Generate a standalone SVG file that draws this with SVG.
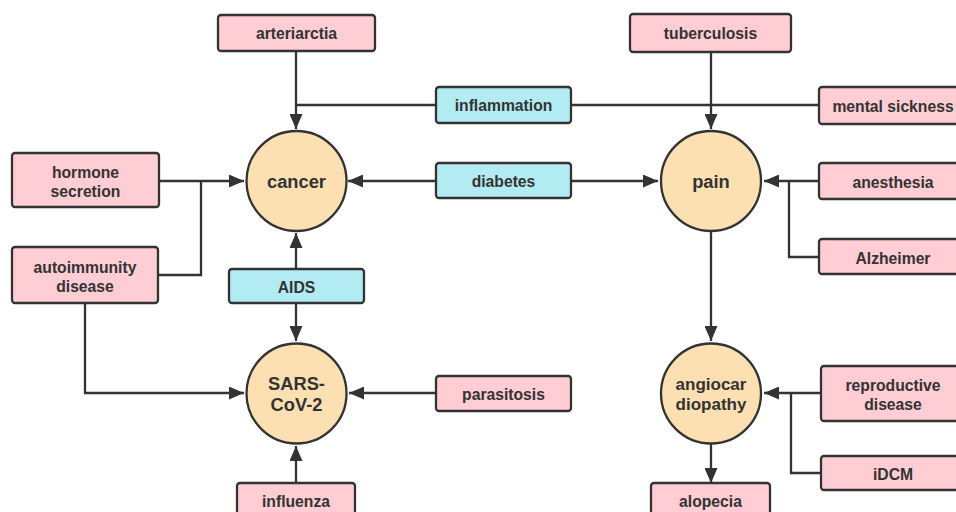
<svg xmlns="http://www.w3.org/2000/svg" width="956" height="512" viewBox="0 0 956 512">
<style>
.b{stroke:#333;stroke-width:2.3}
.p{fill:#ffcdd3}
.c{fill:#b3ebf3}
.o{fill:#fde0b2}
text{font-family:"Liberation Sans",Arial,sans-serif;font-weight:bold;fill:#333;text-anchor:middle}
.t{font-size:15.7px}
.n{font-size:18.3px}
.m{font-size:17px}
.l{fill:none;stroke:#333;stroke-width:2.3}
</style>
<defs>
<marker id="a" markerUnits="userSpaceOnUse" markerWidth="16" markerHeight="13" refX="15" refY="6.5" orient="auto">
<path d="M0,0 L15,6.5 L0,13 z" fill="#333"/>
</marker>
</defs>
<rect width="956" height="512" fill="#fff"/>
<g id="connectors">
<path class="l" d="M296,51 V129" marker-end="url(#a)"/>
<path class="l" d="M296,105 H436"/>
<path class="l" d="M571,105 H819"/>
<path class="l" d="M711,52 V129" marker-end="url(#a)"/>
<path class="l" d="M159,181 H244" marker-end="url(#a)"/>
<path class="l" d="M158,275 H201 V181"/>
<path class="l" d="M436,181 H348" marker-end="url(#a)"/>
<path class="l" d="M571,181 H658" marker-end="url(#a)"/>
<path class="l" d="M819,181 H764" marker-end="url(#a)"/>
<path class="l" d="M819,257 H789 V181"/>
<path class="l" d="M296,269 V233" marker-end="url(#a)"/>
<path class="l" d="M296,303 V341" marker-end="url(#a)"/>
<path class="l" d="M85,303 V393 H244" marker-end="url(#a)"/>
<path class="l" d="M436,393 H349" marker-end="url(#a)"/>
<path class="l" d="M296,483 V446" marker-end="url(#a)"/>
<path class="l" d="M711,231 V341" marker-end="url(#a)"/>
<path class="l" d="M821,393 H764" marker-end="url(#a)"/>
<path class="l" d="M821,473 H791 V393"/>
<path class="l" d="M711,444 V483" marker-end="url(#a)"/>
</g>
<g id="arteriarctia"><rect class="b p" x="218" y="15" width="157" height="36" rx="3"/><text class="t" x="296.5" y="39">arteriarctia</text></g>
<g id="tuberculosis"><rect class="b p" x="630" y="14" width="161" height="38" rx="3"/><text class="t" x="710.5" y="39">tuberculosis</text></g>
<g id="inflammation"><rect class="b c" x="436" y="87" width="135" height="36" rx="3"/><text class="t" x="503.5" y="111">inflammation</text></g>
<g id="mental-sickness"><rect class="b p" x="819" y="87" width="150" height="37" rx="3"/><text class="t" x="893" y="112">mental sickness</text></g>
<g id="hormone-secretion"><rect class="b p" x="12" y="153" width="147" height="54" rx="3"/><text class="t" x="85.5" y="178">hormone</text><text class="t" x="85.5" y="197">secretion</text></g>
<g id="cancer"><circle class="b o" cx="296.5" cy="181" r="50"/><text class="n" x="296.5" y="188">cancer</text></g>
<g id="diabetes"><rect class="b c" x="436" y="163" width="135" height="35" rx="3"/><text class="t" x="503.5" y="187">diabetes</text></g>
<g id="pain"><circle class="b o" cx="711" cy="181" r="50"/><text class="n" x="711" y="188">pain</text></g>
<g id="anesthesia"><rect class="b p" x="819" y="163" width="148" height="36" rx="3"/><text class="t" x="893" y="188">anesthesia</text></g>
<g id="alzheimer"><rect class="b p" x="819" y="239" width="148" height="35" rx="3"/><text class="t" x="893" y="264">Alzheimer</text></g>
<g id="autoimmunity-disease"><rect class="b p" x="12" y="247" width="146" height="56" rx="3"/><text class="t" x="85" y="273">autoimmunity</text><text class="t" x="85" y="292">disease</text></g>
<g id="aids"><rect class="b c" x="229" y="269" width="135" height="34" rx="3"/><text class="t" x="296.5" y="293">AIDS</text></g>
<g id="sars-cov-2"><circle class="b o" cx="296.5" cy="393.5" r="50"/><text class="n" x="296.5" y="390">SARS-</text><text class="n" x="296.5" y="411">CoV-2</text></g>
<g id="parasitosis"><rect class="b p" x="436" y="376" width="135" height="35" rx="3"/><text class="t" x="503.5" y="400">parasitosis</text></g>
<g id="angiocardiopathy"><circle class="b o" cx="711" cy="393.5" r="50"/><text class="m" x="711" y="390">angiocar</text><text class="m" x="711" y="410">diopathy</text></g>
<g id="reproductive-disease"><rect class="b p" x="821" y="366" width="146" height="55" rx="3"/><text class="t" x="893" y="391">reproductive</text><text class="t" x="893" y="410">disease</text></g>
<g id="idcm"><rect class="b p" x="821" y="456" width="146" height="34" rx="3"/><text class="t" x="893" y="480">iDCM</text></g>
<g id="influenza"><rect class="b p" x="237" y="483" width="118" height="36" rx="3"/><text class="t" x="296" y="507">influenza</text></g>
<g id="alopecia"><rect class="b p" x="651" y="483" width="119" height="36" rx="3"/><text class="t" x="710.5" y="507">alopecia</text></g>
</svg>
